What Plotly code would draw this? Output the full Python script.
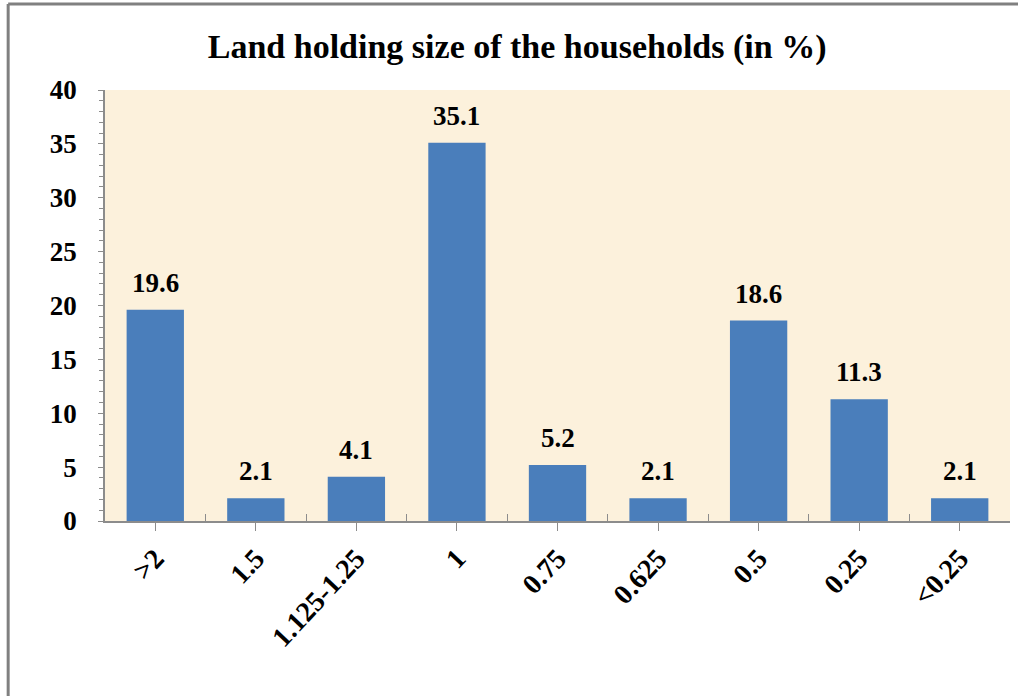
import plotly.graph_objects as go

categories = [">2", "1.5", "1.125-1.25", "1", "0.75", "0.625", "0.5", "0.25", "<0.25"]
values = [19.6, 2.1, 4.1, 35.1, 5.2, 2.1, 18.6, 11.3, 2.1]
value_labels = ["19.6", "2.1", "4.1", "35.1", "5.2", "2.1", "18.6", "11.3", "2.1"]
y_ticks = [0, 5, 10, 15, 20, 25, 30, 35, 40]

FONT = "Liberation Serif"
GRAY = "#8c8c8c"

fig = go.Figure()
fig.add_trace(go.Bar(
    x=categories, y=values,
    marker=dict(color="#4A7EBB", line=dict(width=0)),
    hovertext=value_labels,
))
# invisible helper trace to drive the boundary tick axis
fig.add_trace(go.Scatter(
    x=categories, y=values, xaxis="x2", mode="markers",
    marker=dict(opacity=0), hoverinfo="skip", showlegend=False,
))

# value labels above bars (category index positions on the category axis)
annotations = [
    dict(x=i, y=v, xref="x", yref="y", text=t, showarrow=False,
         yanchor="middle", xanchor="center", yshift=27,
         font=dict(family=FONT, size=27, color="black", weight="bold"))
    for i, (v, t) in enumerate(zip(values, value_labels))
]

fig.update_layout(
    width=1018, height=696,
    paper_bgcolor="white",
    plot_bgcolor="#FCF1DC",
    showlegend=False,
    bargap=0.43,
    margin=dict(l=105, r=8, t=90, b=175),
    title=dict(
        text="Land holding size of the households (in %)",
        x=0.508, xanchor="center", y=0.934, yanchor="middle",
        font=dict(family=FONT, size=34, color="black", weight="bold"),
    ),
    font=dict(family=FONT, color="black"),
    annotations=annotations,
    xaxis=dict(
        type="category", categoryorder="array", categoryarray=categories,
        range=[-0.5, 8.5],
        showline=True, linecolor=GRAY, linewidth=1.5,
        ticks="outside", ticklen=8, tickcolor=GRAY,
        tickangle=-47, ticklabelstandoff=0,
        tickfont=dict(family=FONT, size=28, color="black", weight="bold"),
        showgrid=False, zeroline=False,
    ),
    xaxis2=dict(
        type="category", categoryorder="array", categoryarray=categories,
        range=[-0.5, 8.5], overlaying="x", anchor="y",
        tickson="boundaries", ticks="inside", ticklen=7, tickcolor=GRAY,
        showticklabels=False, showgrid=False, showline=False, zeroline=False,
    ),
    yaxis=dict(
        range=[0, 40], tickvals=y_ticks,
        showline=True, linecolor=GRAY, linewidth=1.5,
        ticks="outside", ticklen=5, tickcolor=GRAY,
        minor=dict(dtick=1, ticks="outside", ticklen=4, tickcolor=GRAY, showgrid=False),
        tickfont=dict(family=FONT, size=27, color="black", weight="bold"),
        showgrid=False, zeroline=False, ticklabelstandoff=16,
    ),
    shapes=[
        dict(type="line", xref="paper", yref="paper",
             x0=-0.107, x1=1.1, y0=1.1995, y1=1.1995,
             line=dict(color="#808080", width=3), layer="above"),
        dict(type="line", xref="paper", yref="paper",
             x0=-0.107, x1=-0.107, y0=1.1995, y1=-0.5,
             line=dict(color="#808080", width=3), layer="above"),
    ],
)

fig.write_html("out.html", config={"displayModeBar": False},
               post_script="document.body.style.margin='0';")
